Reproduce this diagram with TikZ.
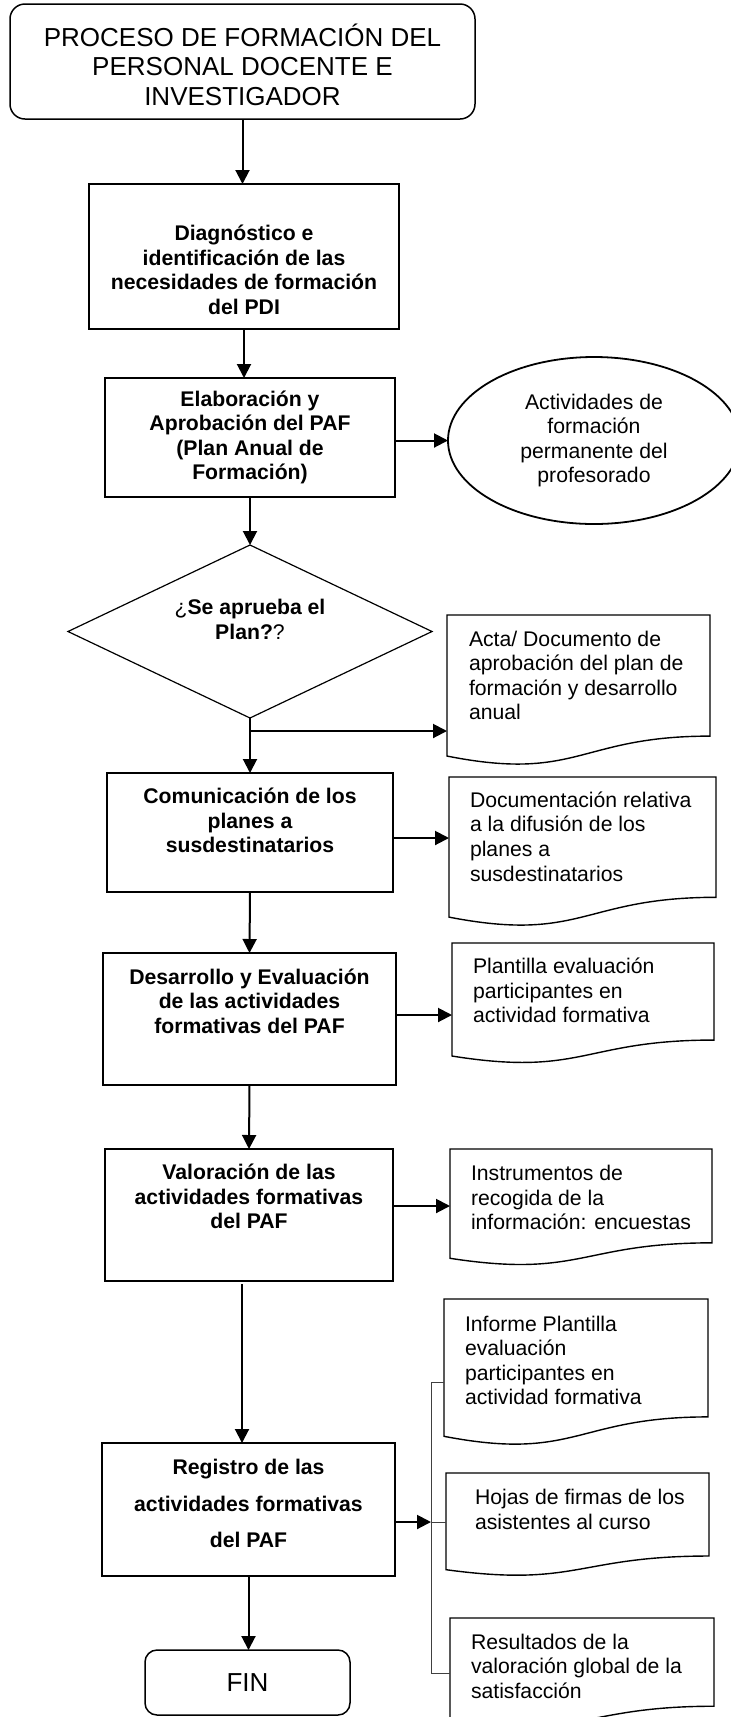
\documentclass[tikz,border=0pt]{standalone}
\usepackage{fontspec}
\setmainfont{Liberation Sans}
\usetikzlibrary{shapes.geometric,arrows.meta,calc}
\newcommand\mydocoutline[1]{%
  \draw[docline] (#1.north west) -- (#1.north east) -- ($(#1.north east)!0.802!(#1.south east)$)
    .. controls ($(#1.north)!0.802!(#1.south)$) and ($(#1.north)!1.107!(#1.south)$) ..
    ($(#1.north west)!0.934!(#1.south west)$) -- cycle;}
\begin{document}
\begin{tikzpicture}[x=1pt,y=1pt,
  every node/.style={inner sep=0pt, outer sep=0pt},
  box/.style={draw, line width=1.5pt, rectangle},
  rbox/.style={draw, line width=1.5pt, rectangle, rounded corners=15pt},
  reg/.style={font=\fontsize{21.2pt}{24.6pt}\selectfont},
  bld/.style={font=\fontsize{21.2pt}{24.6pt}\selectfont\bfseries},
  arr/.style={line width=2pt, -{Triangle[length=14pt,width=14pt]}},
  docarea/.style={draw=none, rectangle, anchor=north west},
  docline/.style={line width=1.4pt},
  bracket/.style={line width=1pt, draw=black!75},
  doctext/.style={reg, align=left, anchor=west},
]
\useasboundingbox (0,0) rectangle (731,-1717);
\clip (0,0) rectangle (731,-1717);

% main flow
\node[rbox, minimum width=465pt, minimum height=115pt] (title) at (242.5,-61.5) {};
\node[align=center, font=\fontsize{26pt}{29.5pt}\selectfont] (ttl) at (242.5,-64.5)
      {PROCESO DE FORMACIÓN DEL\\PERSONAL DOCENTE E\\INVESTIGADOR};

\node[box, minimum width=310pt, minimum height=145pt] (b1) at (244,-256.5) {};
\node[bld, align=center] (t1) at (244,-270)
      {Diagnóstico e\\identificación de las\\necesidades de formación\\del PDI};

\node[box, minimum width=290pt, minimum height=119pt, bld, align=center] (b2) at (250,-437.5)
      {Elaboración y\\Aprobación del PAF\\(Plan Anual de\\Formación)};

\node[draw, ellipse, line width=1.8pt, minimum width=292pt, minimum height=167pt,
      reg, align=center] (ell) at (594,-440.5)
      {Actividades de\\formación\\permanente del\\profesorado};

\node[draw, diamond, line width=1.2pt, minimum width=364pt, minimum height=173pt] (dec) at (250,-631.5) {};
\node[bld, align=center] (tdec) at (250,-619.5) {{\mdseries ¿}Se aprueba el\\Plan?{\mdseries ?}};

\node[box, minimum width=286pt, minimum height=119pt] (b3) at (250,-832.5) {};
\node[bld, align=center] (t3) at (250,-820.5) {Comunicación de los\\planes a\\susdestinatarios};

\node[box, minimum width=293pt, minimum height=132pt] (b4) at (249.5,-1019) {};
\node[bld, align=center] (t4) at (249.5,-1001) {Desarrollo y Evaluación\\de las actividades\\formativas del PAF};

\node[box, minimum width=288pt, minimum height=132pt] (b5) at (249,-1215) {};
\node[bld, align=center] (t5) at (249,-1196.5) {Valoración de las\\actividades formativas\\del PAF};

\node[box, minimum width=293pt, minimum height=133pt] (b6) at (248.5,-1509.5) {};
\node[font=\fontsize{21.2pt}{36.5pt}\selectfont\bfseries, align=center] (t6) at (248.5,-1503.5)
      {Registro de las\\actividades formativas\\del PAF};

\node[draw, line width=1.5pt, rectangle, rounded corners=12pt, minimum width=205pt, minimum height=65pt,
      font=\fontsize{26pt}{29pt}\selectfont] (fin) at (247.5,-1682.5) {FIN};

% documents
\node[docarea, minimum width=263pt, minimum height=151pt] (d1) at (447,-615) {};
\node[docarea, minimum width=267pt, minimum height=150pt] (d2) at (449,-777) {};
\node[docarea, minimum width=262pt, minimum height=121pt] (d3) at (452,-943) {};
\node[docarea, minimum width=262pt, minimum height=117pt] (d4) at (450,-1149) {};
\node[docarea, minimum width=264pt, minimum height=147pt] (d5) at (444,-1299) {};
\node[docarea, minimum width=263pt, minimum height=103.5pt] (d6) at (446,-1473) {};
\node[docarea, minimum width=264pt, minimum height=110pt] (d7) at (450,-1618) {};
\mydocoutline{d1}
\mydocoutline{d2}
\mydocoutline{d3}
\mydocoutline{d4}
\mydocoutline{d5}
\mydocoutline{d6}
\mydocoutline{d7}

\node[doctext] (x1) at (469,-675.5) {Acta/ Documento de\\aprobación del plan de\\formación y desarrollo\\anual};
\node[doctext] (x2) at (470,-836.5) {Documentación relativa\\a la difusión de los\\planes a\\susdestinatarios};
\node[doctext] (x3) at (473,-990.5) {Plantilla evaluación\\participantes en\\actividad formativa};
\node[doctext] (x4) at (471,-1197.5) {Instrumentos de\\recogida de la\\información: encuestas};
\node[doctext] (x5) at (465,-1360.5) {Informe Plantilla\\evaluación\\participantes en\\actividad formativa};
\node[doctext] (x6) at (475,-1509.5) {Hojas de firmas de los\\asistentes al curso};
\node[doctext] (x7) at (471,-1666) {Resultados de la\\valoración global de la\\satisfacción};

% connectors
\draw[arr] (title.south) -- (title.south |- b1.north);
\draw[arr] (b1.south) -- (b1.south |- b2.north);
\draw[arr] (b2.east |- ell.west) -- (ell.west);
\draw[arr] (b2.south) -- (dec.north);
\coordinate (j1) at (dec.south |- 0,-731);
\draw[arr] (dec.south) -- (b3.north);
\draw[arr] (j1) -- (j1 -| d1.west);
\draw[arr] (b3.east |- 0,-838) -- (d2.west |- 0,-838);
\draw[arr] (b3.south) -- (b4.north);
\draw[arr] (b4.east |- 0,-1015) -- (d3.west |- 0,-1015);
\draw[arr] (b4.south) -- (b5.north);
\draw[arr] (b5.east |- 0,-1206) -- (d4.west |- 0,-1206);
\coordinate (a7) at (242,-1284);
\draw[arr] (a7) -- (a7 |- b6.north);
\coordinate (br) at (431,-1522);
\draw[arr] (b6.east |- br) -- (br);
\draw[bracket] (d5.west |- 0,-1382) -- (431,-1382) -- (431,-1673) -- (d7.west |- 0,-1673);
\draw[bracket] (br) -- (br -| d6.west);
\draw[arr] (b6.south) -- (b6.south |- fin.north);
\end{tikzpicture}
\end{document}
